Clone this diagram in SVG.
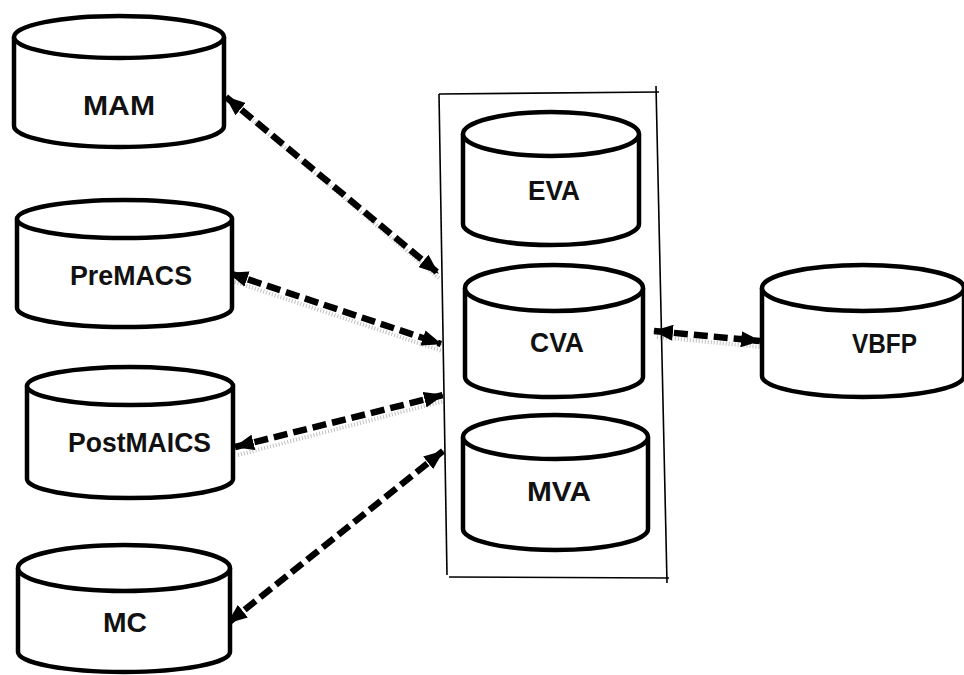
<svg xmlns="http://www.w3.org/2000/svg" width="964" height="675" viewBox="0 0 964 675">
<style>
.cyl{fill:#fff;stroke:#000;stroke-width:4.5;stroke-linejoin:round}
.lbl{font-family:"Liberation Sans",Arial,sans-serif;font-weight:bold;font-size:27px;fill:#111;text-anchor:middle}
.box{stroke:#000;stroke-width:1.6;fill:none}
.con{stroke:#000;stroke-width:6.5;stroke-dasharray:14 6;fill:none;marker-start:url(#ah);marker-end:url(#ah)}
.sh{stroke:#888;stroke-width:4;stroke-dasharray:1 2;fill:none;opacity:0.55}
</style>
<defs>
<marker id="ah" viewBox="0 0 20 16" refX="19" refY="8" markerWidth="20" markerHeight="16" markerUnits="userSpaceOnUse" orient="auto-start-reverse">
<path d="M0,0 L20,8 L0,16 z" fill="#000"/>
</marker>
</defs>
<rect width="964" height="675" fill="#fff"/>
<g id="container">
<line class="box" x1="439" y1="94" x2="659" y2="92"/>
<line class="box" x1="656" y1="86" x2="667" y2="583"/>
<line class="box" x1="449" y1="577" x2="669" y2="578"/>
<line class="box" x1="439" y1="94" x2="447" y2="575"/>
</g>
<g id="connectors">
<line class="sh" x1="232" y1="103" x2="440" y2="279"/>
<line class="sh" x1="232" y1="281" x2="442" y2="351"/>
<line class="sh" x1="238" y1="455" x2="444" y2="401"/>
<line class="sh" x1="657" y1="337" x2="760" y2="347"/>
<line class="con" x1="226" y1="97" x2="438" y2="273"/>
<line class="con" x1="229" y1="273" x2="441" y2="344"/>
<line class="con" x1="235" y1="447" x2="443" y2="395"/>
<line class="con" x1="443" y1="451" x2="228" y2="623"/>
<line class="con" x1="654" y1="331" x2="760" y2="341"/>
</g>
<g id="MAM">
<path class="cyl" d="M14,37 L14,126 A105,21 0 0 0 224,126 L224,37"/>
<ellipse class="cyl" cx="119" cy="37" rx="105" ry="21"/>
<text class="lbl" x="119" y="115" textLength="72" lengthAdjust="spacingAndGlyphs">MAM</text>
</g>
<g id="PreMACS">
<path class="cyl" d="M17,219 L17,308 A107.5,19 0 0 0 232,308 L232,219"/>
<ellipse class="cyl" cx="124.5" cy="219" rx="107.5" ry="19"/>
<text class="lbl" x="131" y="285" textLength="122" lengthAdjust="spacingAndGlyphs">PreMACS</text>
</g>
<g id="PostMAICS">
<path class="cyl" d="M27,386 L27,479 A103,19 0 0 0 233,479 L233,386"/>
<ellipse class="cyl" cx="130" cy="386" rx="103" ry="19"/>
<text class="lbl" x="139.5" y="452" textLength="143" lengthAdjust="spacingAndGlyphs">PostMAICS</text>
</g>
<g id="MC">
<path class="cyl" d="M18,568 L18,652 A106,20 0 0 0 230,652 L230,568"/>
<ellipse class="cyl" cx="124" cy="568" rx="106" ry="23"/>
<text class="lbl" x="125" y="632" textLength="44" lengthAdjust="spacingAndGlyphs">MC</text>
</g>
<g id="EVA">
<path class="cyl" d="M463,134 L463,224 A88,21 0 0 0 639,224 L639,134"/>
<ellipse class="cyl" cx="551" cy="134" rx="88" ry="22"/>
<text class="lbl" x="554" y="200" textLength="52" lengthAdjust="spacingAndGlyphs">EVA</text>
</g>
<g id="CVA">
<path class="cyl" d="M465,288 L465,377 A89,20 0 0 0 643,377 L643,288"/>
<ellipse class="cyl" cx="554" cy="288" rx="89" ry="23"/>
<text class="lbl" x="557" y="352" textLength="54" lengthAdjust="spacingAndGlyphs">CVA</text>
</g>
<g id="MVA">
<path class="cyl" d="M463,437 L463,529 A92.5,21 0 0 0 648,529 L648,437"/>
<ellipse class="cyl" cx="555.5" cy="437" rx="92.5" ry="22"/>
<text class="lbl" x="559" y="501" textLength="64" lengthAdjust="spacingAndGlyphs">MVA</text>
</g>
<g id="VBFP">
<path class="cyl" d="M762,288 L762,376 A101,21 0 0 0 964,376 L964,288"/>
<ellipse class="cyl" cx="863" cy="288" rx="101" ry="23"/>
<text class="lbl" x="884.5" y="353" textLength="65" lengthAdjust="spacingAndGlyphs">VBFP</text>
</g>
</svg>
